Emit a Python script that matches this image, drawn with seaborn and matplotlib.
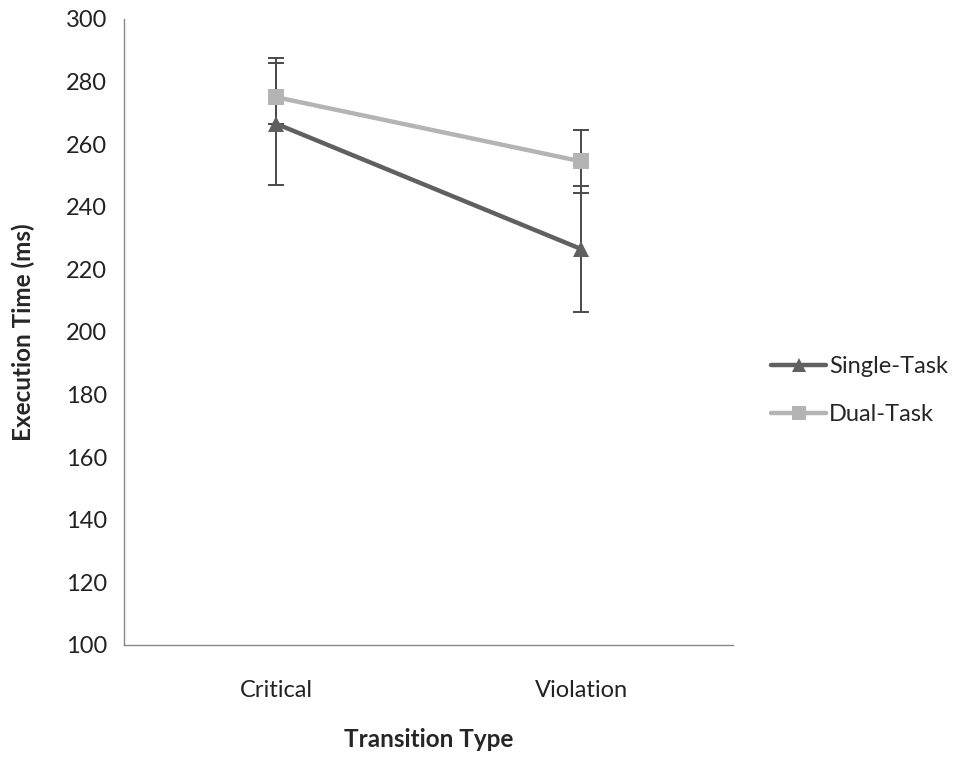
import matplotlib
matplotlib.use("Agg")
import matplotlib.pyplot as plt
import seaborn as sns
import pandas as pd
import numpy as np
from matplotlib.lines import Line2D

categories = ["Critical", "Violation"]
series_names = ["Single-Task", "Dual-Task"]
single_vals = [266.5, 226.5]
single_err_low = [19.5, 20.0]
single_err_high = [19.5, 20.0]
dual_vals = [275.0, 254.5]
dual_err_low = [8.5, 10.0]
dual_err_high = [12.5, 10.0]
y_ticks = [100, 120, 140, 160, 180, 200, 220, 240, 260, 280, 300]

sns.set_style("white")
plt.rcParams['font.family'] = ['Lato', 'DejaVu Sans']

fig = plt.figure(figsize=(9.6, 7.57), dpi=100)
ax = fig.add_axes([0.129, 0.148, 0.635, 0.827])

rows = []
for name, vals in zip(series_names, [single_vals, dual_vals]):
    for i, (c, v) in enumerate(zip(categories, vals)):
        rows.append({"series": name, "x": i, "cat": c, "value": v})
df = pd.DataFrame(rows)

colors = {"Single-Task": "#606060", "Dual-Task": "#b4b4b4"}
markers = {"Single-Task": "^", "Dual-Task": "s"}

for name, vals, lo, hi in [("Single-Task", single_vals, single_err_low, single_err_high),
                           ("Dual-Task", dual_vals, dual_err_low, dual_err_high)]:
    ax.errorbar(range(len(categories)), vals, yerr=[lo, hi], fmt="none",
                ecolor="#4a4a4a", elinewidth=1.4, capsize=6, capthick=1.4, zorder=2)

sns.lineplot(data=df, x="x", y="value", hue="series", style="series",
             palette=colors, markers=markers, dashes=False, linewidth=3.2,
             markersize=11, markeredgewidth=0, ax=ax, legend=False, zorder=3)

ax.set_xlim(-0.5, 1.5)
ax.set_ylim(100, 300)
ax.set_yticks(y_ticks)
ax.set_xticks(range(len(categories)))
ax.set_xticklabels(categories)
ax.set_xticks([-0.5, 0.5, 1.5], minor=True)
ax.tick_params(axis="x", which="major", length=0, labelsize=17, colors="#222222", pad=25)
ax.tick_params(axis="x", which="minor", length=6, width=1, color="#888888", direction="out")
ax.tick_params(axis="y", length=6, width=1, direction="out", labelsize=17, labelcolor="#222222", color="#888888", pad=6)

for s in ["top", "right"]:
    ax.spines[s].set_visible(False)
for s in ["left", "bottom"]:
    ax.spines[s].set_color("#888888")
    ax.spines[s].set_linewidth(1)

ax.set_xlabel("Transition Type", fontsize=17.5, fontweight="bold", labelpad=20)
ax.set_ylabel("Execution Time (ms)", fontsize=17.5, fontweight="bold", labelpad=22)

handles = [Line2D([0], [0], color=colors[n], marker=markers[n], lw=3.2, ms=10, mew=0) for n in series_names]
leg = fig.legend(handles, series_names, loc="center left", bbox_to_anchor=(0.803, 0.484),
                 frameon=False, fontsize=17, handlelength=2.35, handletextpad=0.1,
                 labelspacing=1.15, borderpad=0, borderaxespad=0)

fig.savefig("out.png", dpi=100)
